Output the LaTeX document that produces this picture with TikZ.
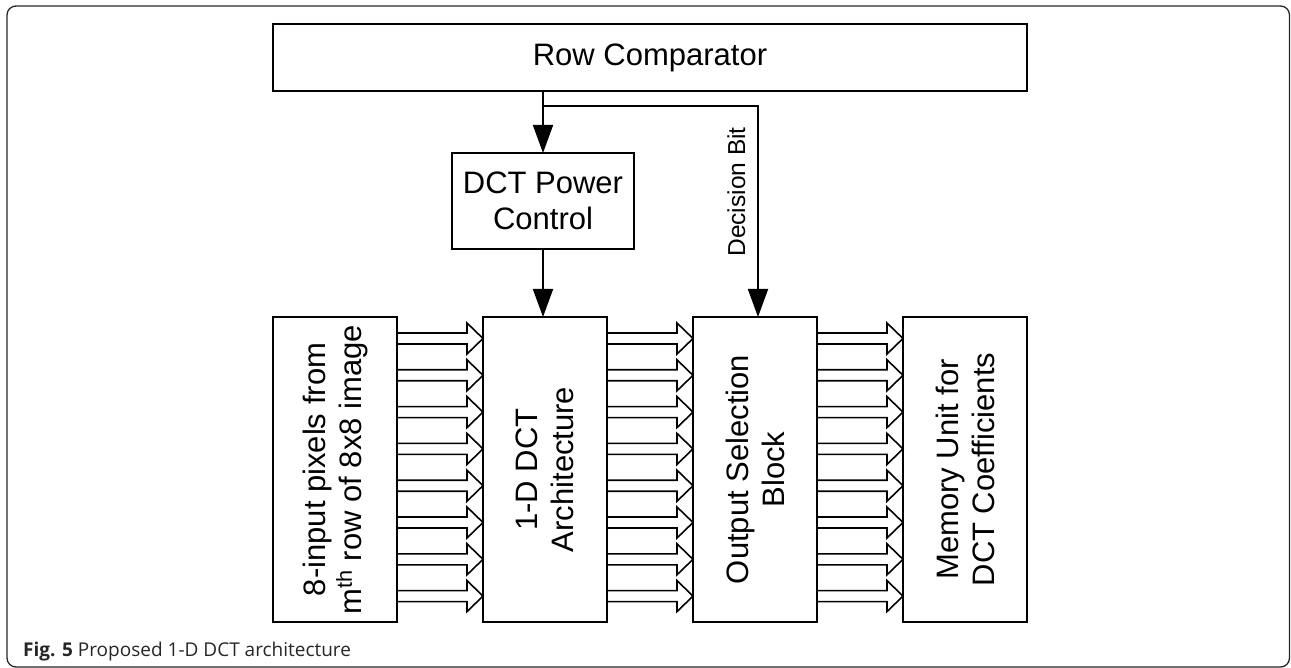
\documentclass[tikz,border=0pt]{standalone}
\usepackage{fontspec}
\setmainfont{Liberation Sans}
\newfontfamily\capfont{Open Sans}
\usetikzlibrary{arrows.meta,calc}
\begin{document}
\begin{tikzpicture}[x=1pt,y=-1pt,
  block/.style={draw, line width=1.9pt, outer sep=0pt, inner sep=0pt, anchor=north west},
  btext/.style={font=\fontsize{31}{36}\selectfont, align=center},
  hollow/.style={line width=1.6pt, line join=miter},
  darrow/.style={line width=1.8pt, -{Triangle[length=28pt,width=20pt]}}
]
\useasboundingbox (0,0) rectangle (1291,668);
\draw[line width=1.3pt, black!85, rounded corners=9pt] (7,6) rectangle (1289.5,667);

% blocks
\node[block, btext, minimum width=754, minimum height=67] (rc) at (273,24) {Row Comparator};
\node[block, btext, minimum width=182, minimum height=96] (pw) at (452,153) {DCT Power\\Control};
\node[block, minimum width=124, minimum height=305] (in) at (273,317) {};
\node[block, minimum width=124, minimum height=305] (dct) at (483,317) {};
\node[block, minimum width=124, minimum height=305] (os) at (693,317) {};
\node[block, minimum width=124, minimum height=305] (mem) at (903,317) {};

\node[btext, rotate=90] at (in.center) {8-input pixels from\\m\textsuperscript{th} row of 8x8 image};
\node[btext, rotate=90] at (dct.center) {1-D DCT\\Architecture};
\node[btext, rotate=90] at (os.center) {Output Selection\\Block};
\node[btext, rotate=90] at (mem.center) {Memory Unit for\\DCT Coefficients};

% control connectors
\coordinate (j) at ($(pw.north |- rc.south)+(0,15)$);
\coordinate (dbt) at ($(os.north)+(3,0)$);
\draw[darrow] (pw.north |- rc.south) -- (pw.north);
\draw[darrow] (j) -- (j -| dbt) -- (dbt);
\draw[darrow] (pw.south) -- (pw.south |- dct.north);
\node[font=\fontsize{24.5}{28}\selectfont, rotate=90, anchor=base, inner sep=0pt] (db) at ($(dbt)+(-13,-125)$) {Decision Bit};

% hollow bus arrows
\foreach \a/\b in {in/dct, dct/os, os/mem} {
  \foreach \k in {0,...,7} {
    \pgfmathsetmacro\c{21.5+36.8*\k}
    \draw[hollow] ($(\a.north east)+(0,\c-5.5)$) -- ($(\b.north west)+(-16,\c-5.5)$)
      -- ($(\b.north west)+(-16,\c-15.5)$) -- ($(\b.north west)+(0,\c)$)
      -- ($(\b.north west)+(-16,\c+15.5)$) -- ($(\b.north west)+(-16,\c+5.5)$)
      -- ($(\a.north east)+(0,\c+5.5)$);
  }
}

% caption
\node[anchor=base west, inner sep=0pt, font=\capfont\fontsize{19}{23}\selectfont, text=black!85] (cap) at (23,656) {\textbf{Fig. 5} Proposed 1-D DCT architecture};
\end{tikzpicture}
\end{document}
